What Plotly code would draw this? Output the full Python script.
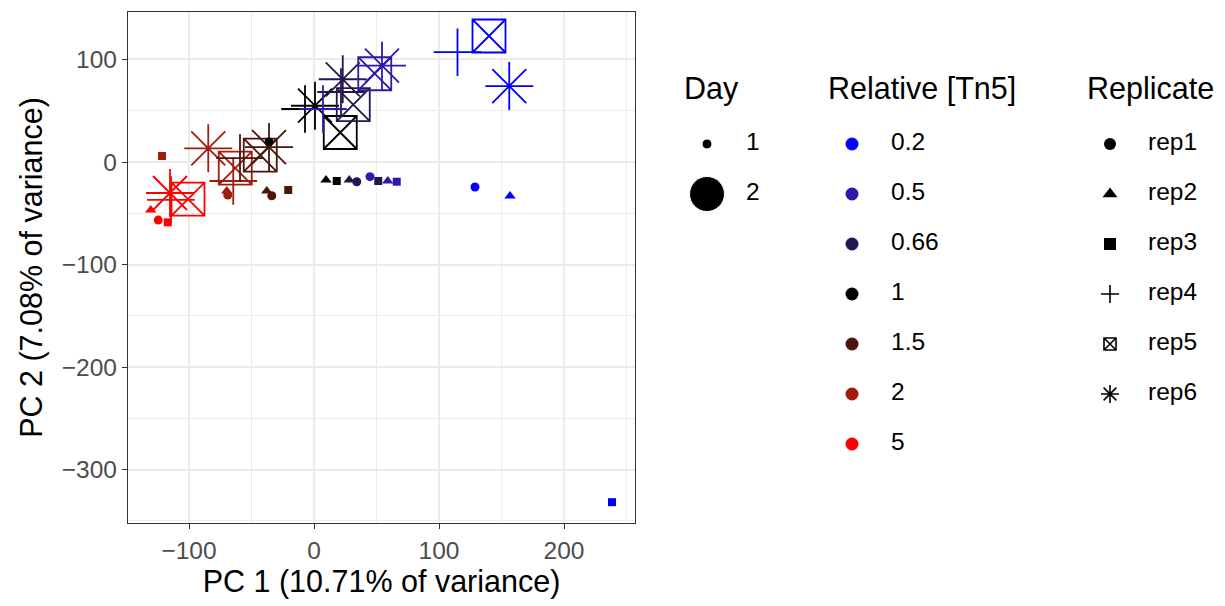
import plotly.graph_objects as go

# ---------------- data ----------------
tn5_levels = ["0.2", "0.5", "0.66", "1", "1.5", "2", "5"]
tn5_colors = ["#0000FF", "#2D1AAB", "#24174F", "#000000", "#4D160C", "#A21C0E", "#FF0000"]
replicates = ["rep1", "rep2", "rep3", "rep4", "rep5", "rep6"]
rep_day = ["1", "1", "1", "2", "2", "2"]
days = ["1", "2"]

# PC coordinates per replicate, ordered like tn5_levels
pc1_rep1 = [128.8, 44.8, 34.2, -36.0, -33.8, -69.0, -124.6]
pc2_rep1 = [-24.4, -14.3, -19.2, 19.5, -32.9, -32.2, -56.6]
pc1_rep2 = [156.8, 59.0, 28.2, 9.6, -37.8, -69.8, -130.6]
pc2_rep2 = [-33.2, -18.5, -17.6, -17.6, -28.3, -28.3, -46.8]
pc1_rep3 = [238.4, 66.2, 51.4, 18.2, -20.6, -121.6, -117.0]
pc2_rep3 = [-331.7, -19.2, -18.5, -18.5, -27.3, 5.9, -58.8]
pc1_rep4 = [114.8, 7.2, 21.6, -7.2, -59.2, -64.6, -114.4]
pc2_rep4 = [107.1, 51.7, 68.3, 51.7, 3.9, -18.5, -37.0]
pc1_rep5 = [140.0, 48.6, 31.4, 21.0, -43.0, -63.0, -100.8]
pc2_rep5 = [122.9, 86.1, 55.9, 28.8, 6.8, -5.9, -36.1]
pc1_rep6 = [156.2, 54.4, 23.0, 0.8, -36.0, -84.6, -115.2]
pc2_rep6 = [74.1, 94.0, 80.7, 54.9, 14.6, 13.4, -30.2]

pc1_by_rep = [pc1_rep1, pc1_rep2, pc1_rep3, pc1_rep4, pc1_rep5, pc1_rep6]
pc2_by_rep = [pc2_rep1, pc2_rep2, pc2_rep3, pc2_rep4, pc2_rep5, pc2_rep6]

# ---------------- styles ----------------
rep_symbols = ["circle", "triangle-up", "square", "cross-thin-open", "square-x-open", "asterisk-open"]
rep_plot_sizes = [9, 10, 8, 34, 33, 40]
rep_legend_sizes = [12, 13, 12, 13, 12, 15]
day_legend_sizes = [10, 35]
LW = 1.8
FONT = "Liberation Sans, Arial, Helvetica, sans-serif"
TITLE_SIZE = 30.5
TEXT_SIZE = 24.5

fig = go.Figure()

# draw points: one trace per Tn5 level and day
order = list(range(len(tn5_levels)))[::-1]
for k in order:
    col = tn5_colors[k]
    for day in days:
        idx = [r for r in range(len(replicates)) if rep_day[r] == day]
        fig.add_trace(go.Scatter(
            x=[pc1_by_rep[r][k] for r in idx],
            y=[pc2_by_rep[r][k] for r in idx],
            mode="markers",
            marker=dict(
                symbol=[rep_symbols[r] for r in idx],
                size=[rep_plot_sizes[r] for r in idx],
                color=col,
                opacity=1,
                line=dict(color=col, width=(LW if day == "2" else 0)),
            ),
            showlegend=False,
            hoverinfo="skip",
            cliponaxis=False,
        ))

# ---------------- legend (own hidden subplot, pixel-like units) ----------------
leg_y0 = 144
leg_dy = 50
leg_title_y = 88
day_mx, day_tx, day_title_x = 707, 746, 682
tn5_mx, tn5_tx, tn5_title_x = 852, 891, 826
rep_mx, rep_tx, rep_title_x = 1110, 1148, 1085


def leg_y(n):
    return [leg_y0 + i * leg_dy for i in range(n)]


common = dict(xaxis="x2", yaxis="y2", showlegend=False, hoverinfo="skip", cliponaxis=False)
textfont = dict(size=TEXT_SIZE, color="black", family=FONT)

# Day legend
fig.add_trace(go.Scatter(x=[day_mx] * len(days), y=leg_y(len(days)), mode="markers",
                         marker=dict(size=day_legend_sizes, color="black", symbol="circle", opacity=1), **common))
fig.add_trace(go.Scatter(x=[day_tx] * len(days), y=leg_y(len(days)), mode="text", text=days,
                         textposition="middle right", textfont=textfont, **common))
# Tn5 legend
fig.add_trace(go.Scatter(x=[tn5_mx] * len(tn5_levels), y=leg_y(len(tn5_levels)), mode="markers",
                         marker=dict(size=13, color=tn5_colors, symbol="circle", opacity=1), **common))
fig.add_trace(go.Scatter(x=[tn5_tx] * len(tn5_levels), y=leg_y(len(tn5_levels)), mode="text", text=tn5_levels,
                         textposition="middle right", textfont=textfont, **common))
# Replicate legend
fig.add_trace(go.Scatter(x=[rep_mx] * len(replicates), y=leg_y(len(replicates)), mode="markers",
                         marker=dict(size=rep_legend_sizes, color="black", symbol=rep_symbols, opacity=1,
                                     line=dict(color="black", width=[0, 0, 0, 1.6, 1.6, 1.6])), **common))
fig.add_trace(go.Scatter(x=[rep_tx] * len(replicates), y=leg_y(len(replicates)), mode="text", text=replicates,
                         textposition="middle right", textfont=textfont, **common))

annotations = []
for tx, title in [(day_title_x, "Day"), (tn5_title_x, "Relative [Tn5]"), (rep_title_x, "Replicate")]:
    annotations.append(dict(x=tx, y=leg_title_y, xref="x2", yref="y2", text=title, showarrow=False,
                            xanchor="left", yanchor="middle",
                            font=dict(size=TITLE_SIZE, color="black", family=FONT)))

W, H = 1225, 606
ML, MR, MT, MB = 128, 0, 12, 83
plot_w = W - ML - MR
panel_right = 635
main_dom = (panel_right - ML) / plot_w
leg_left = 650

axis_common = dict(
    showgrid=True, gridcolor="#EBEBEB", gridwidth=1.6,
    zeroline=False, showline=True, mirror=True, linecolor="#333333", linewidth=1.4,
    ticks="outside", ticklen=5, tickwidth=1.4, tickcolor="#333333",
    tickfont=dict(size=TEXT_SIZE, color="#4D4D4D", family=FONT),
    minor=dict(dtick=50, showgrid=True, gridcolor="#EBEBEB", gridwidth=0.8, ticks=""),
    dtick=100, tick0=0,
)

fig.update_layout(
    width=W, height=H,
    margin=dict(l=ML, r=MR, t=MT, b=MB),
    paper_bgcolor="white", plot_bgcolor="white",
    font=dict(family=FONT, color="black"),
    xaxis=dict(domain=[0, main_dom], range=[-148.8, 256.8],
               title=dict(text="PC 1 (10.71% of variance)",
                          font=dict(size=TITLE_SIZE, color="black", family=FONT), standoff=4),
               **axis_common),
    yaxis=dict(domain=[0, 1], range=[-352, 146.3],
               title=dict(text="PC 2 (7.08% of variance)",
                          font=dict(size=TITLE_SIZE, color="black", family=FONT), standoff=10),
               **axis_common),
    xaxis2=dict(domain=[(leg_left - ML) / plot_w, 1], range=[leg_left, W], visible=False,
                fixedrange=True, anchor="y2"),
    yaxis2=dict(domain=[0, 1], range=[H - MB, MT], visible=False, fixedrange=True, anchor="x2"),
    annotations=annotations,
    showlegend=False,
)

fig.write_html("out.html")
